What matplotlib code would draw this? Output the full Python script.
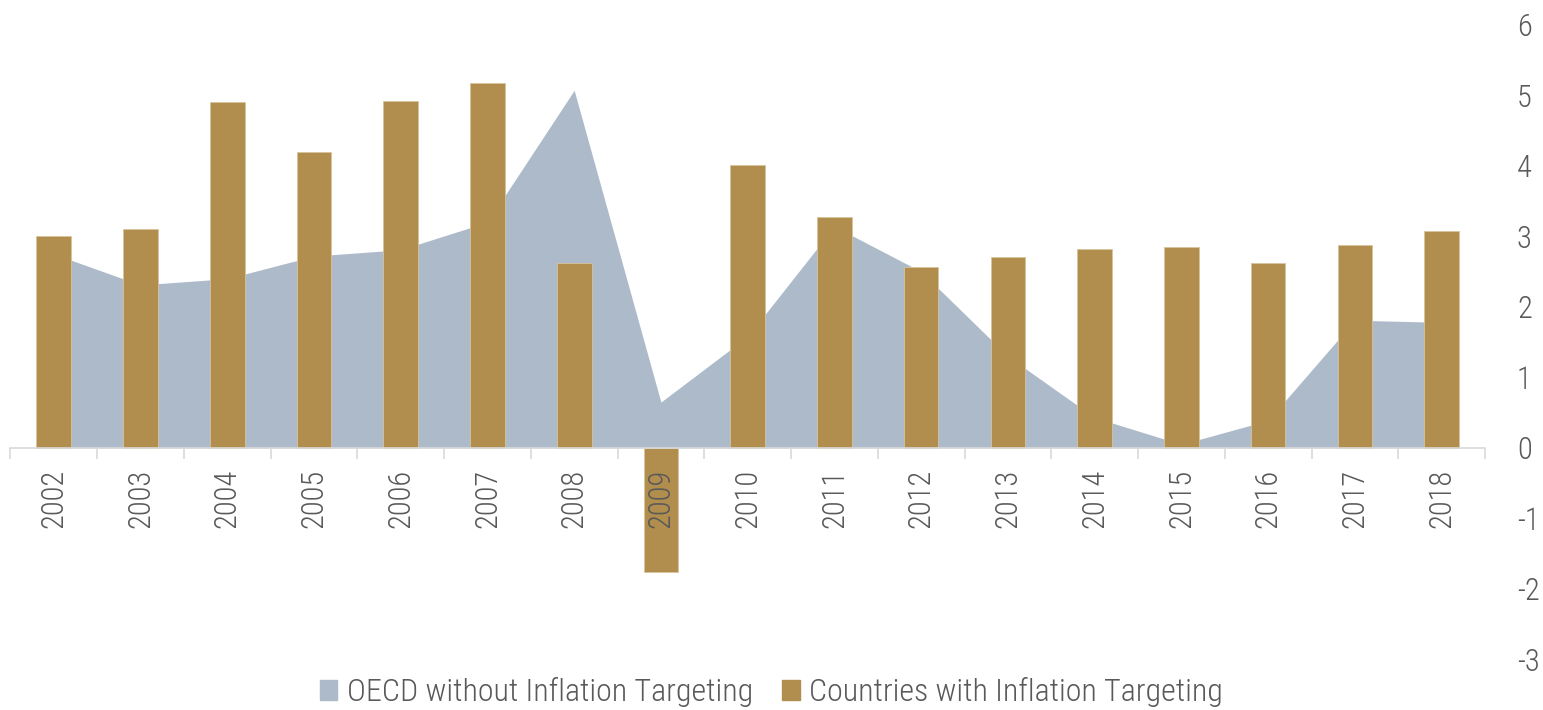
import numpy as np
import matplotlib
matplotlib.use("Agg")
import matplotlib.pyplot as plt
from matplotlib.patches import Patch

YEARS = [str(y) for y in range(2002, 2019)]
OECD_NO_IT = [2.75, 2.31, 2.40, 2.72, 2.81, 3.20, 5.07, 0.65, 1.58, 3.14,
              2.50, 1.30, 0.43, 0.05, 0.39, 1.81, 1.78]
WITH_IT = [3.00, 3.10, 4.90, 4.19, 4.92, 5.18, 2.62, -1.76, 4.01, 3.28,
           2.56, 2.70, 2.82, 2.85, 2.62, 2.88, 3.07]
Y_TICKS = [-3, -2, -1, 0, 1, 2, 3, 4, 5, 6]

GOLD = "#B18E4E"
GREY_BLUE = "#ADBACA"
TEXT = "#595959"
AXIS = "#D9D9D9"

plt.rcParams["font.family"] = ["Roboto Condensed", "DejaVu Sans"]
plt.rcParams["font.weight"] = "light"

fig = plt.figure(figsize=(15.43, 7.10), dpi=100)
ax = fig.add_axes([10.3 / 1543, 50.5 / 710, (1485 - 10.3) / 1543, 634.8 / 710])

x = np.arange(len(YEARS))
ax.fill_between(x, 0, OECD_NO_IT, color=GREY_BLUE, linewidth=0, zorder=0.8)
ax.bar(x, WITH_IT, width=0.4, color=GOLD, edgecolor="#D6C49C", linewidth=0.6, zorder=1)

ax.set_xlim(-0.5, len(YEARS) - 0.5)
ax.set_ylim(-3, 6)

for side in ["top", "left", "right"]:
    ax.spines[side].set_visible(False)
ax.spines["bottom"].set_position(("data", 0))
ax.spines["bottom"].set_color(AXIS)
ax.spines["bottom"].set_linewidth(1.2)

ax.set_xticks(x)
ax.set_xticklabels(YEARS, rotation=90, fontsize=22, color=TEXT)
ax.set_xticks(np.arange(-0.5, len(YEARS)), minor=True)
ax.tick_params(axis="x", which="major", length=0, pad=15)
ax.tick_params(axis="x", which="minor", length=8, width=1.2, color=AXIS, direction="out")

ax.yaxis.tick_right()
ax.set_yticks(Y_TICKS)
ax.set_yticklabels([str(v) for v in Y_TICKS], fontsize=22, color=TEXT)
ax.tick_params(axis="y", length=0, pad=23)

handles = [Patch(color=GREY_BLUE, label="OECD without Inflation Targeting"),
           Patch(color=GOLD, label="Countries with Inflation Targeting")]
fig.legend(handles=handles, loc="center", bbox_to_anchor=(0.5, 0.025), ncol=2,
           frameon=False, fontsize=23, labelcolor=TEXT, handlelength=0.55,
           handleheight=0.55, handletextpad=0.3, columnspacing=0.9)

fig.savefig("out.png", dpi=100)
